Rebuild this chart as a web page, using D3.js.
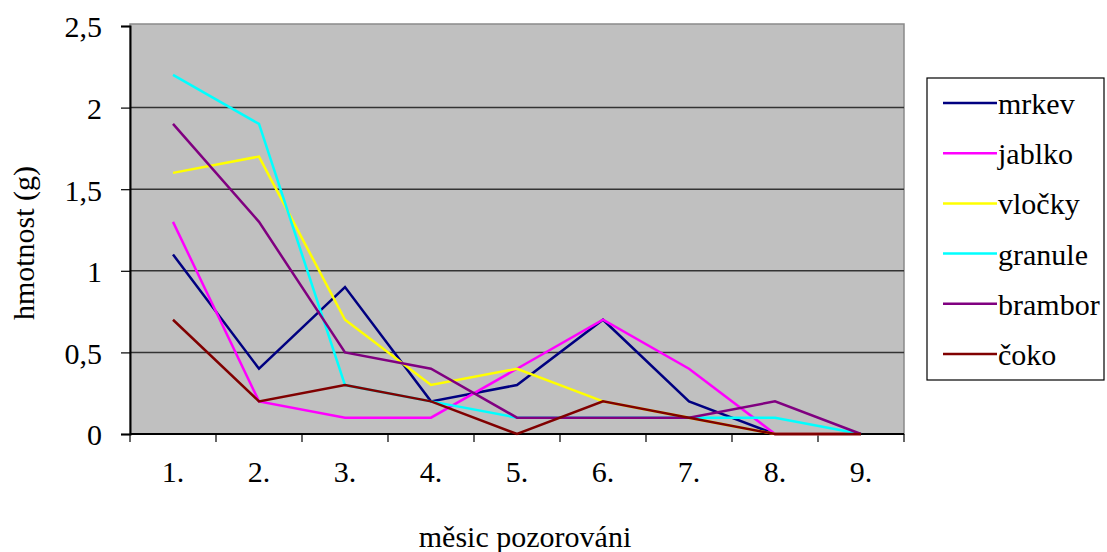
<!DOCTYPE html>
<html>
<head>
<meta charset="utf-8">
<script src="https://cdn.jsdelivr.net/npm/d3@7"></script>
<style>
  html, body { margin: 0; padding: 0; background: #fff; }
  svg { display: block; }
  svg text { font-family: "Liberation Serif", "Tinos", "Times New Roman", "DejaVu Serif", "Noto Serif", serif !important; fill: #000; }
</style>
</head>
<body>
<svg id="chart" width="1107" height="552"></svg>
<script>
// Months of observation
const months = ["1.", "2.", "3.", "4.", "5.", "6.", "7.", "8.", "9."];

// Weight (g) per food type and month
const mrkev   = [1.1, 0.4, 0.9, 0.2, 0.3, 0.7, 0.2, 0.0, 0.0];
const jablko  = [1.3, 0.2, 0.1, 0.1, 0.4, 0.7, 0.4, 0.0, 0.0];
const vlocky  = [1.6, 1.7, 0.7, 0.3, 0.4, 0.2, 0.1, 0.0, 0.0];
const granule = [2.2, 1.9, 0.3, 0.2, 0.1, 0.1, 0.1, 0.1, 0.0];
const brambor = [1.9, 1.3, 0.5, 0.4, 0.1, 0.1, 0.1, 0.2, 0.0];
const coko    = [0.7, 0.2, 0.3, 0.2, 0.0, 0.2, 0.1, 0.0, 0.0];

const yTicks = [0, 0.5, 1, 1.5, 2, 2.5];
const yTickLabels = ["0", "0,5", "1", "1,5", "2", "2,5"];

const series = [
  { name: "mrkev",   values: mrkev,   color: "#000080" },
  { name: "jablko",  values: jablko,  color: "#ff00ff" },
  { name: "vločky",  values: vlocky,  color: "#ffff00" },
  { name: "granule", values: granule, color: "#00ffff" },
  { name: "brambor", values: brambor, color: "#800080" },
  { name: "čoko",    values: coko,    color: "#800000" }
];

const svg = d3.select("#chart");
const plot = { left: 130, top: 26, right: 904, bottom: 434 };
const FONT = 30;

const x = d3.scaleBand().domain(months).range([plot.left, plot.right]);
const y = d3.scaleLinear().domain([0, 2.5]).range([plot.bottom, plot.top]);

// plot background
svg.append("rect")
  .attr("x", plot.left).attr("y", plot.top - 2)
  .attr("width", plot.right - plot.left).attr("height", plot.bottom - plot.top + 2)
  .attr("fill", "#c0c0c0")
  .attr("stroke", "#8a8a8a").attr("stroke-width", 1.5);

// horizontal gridlines
svg.append("g")
  .selectAll("line")
  .data(yTicks.filter(d => d > 0 && d < 2.5))
  .join("line")
  .attr("x1", plot.left).attr("x2", plot.right)
  .attr("y1", d => y(d)).attr("y2", d => y(d))
  .attr("stroke", "#333").attr("stroke-width", 1.5);

// y axis
const yAxis = svg.append("g")
  .attr("transform", `translate(${plot.left},0)`)
  .call(d3.axisLeft(y).tickValues(yTicks)
    .tickFormat((d, i) => yTickLabels[i]).tickSize(9).tickPadding(19));
yAxis.select(".domain").attr("stroke", "#000").attr("stroke-width", 2);
yAxis.selectAll(".tick line").attr("stroke", "#000").attr("stroke-width", 1.2);
yAxis.selectAll(".tick text")
  .style("font-size", FONT + "px")
  .attr("dy", "0.36em")
  .attr("fill", "#000");

// x axis with boundary ticks between categories
const xAxisG = svg.append("g").attr("transform", `translate(0,${plot.bottom})`);
xAxisG.append("line")
  .attr("x1", plot.left).attr("x2", plot.right)
  .attr("stroke", "#000").attr("stroke-width", 2);
const bounds = months.map(m => x(m)).concat([plot.right]);
xAxisG.selectAll("line.tick")
  .data(bounds)
  .join("line").attr("class", "tick")
  .attr("x1", d => d).attr("x2", d => d)
  .attr("y1", 0).attr("y2", 8)
  .attr("stroke", "#000").attr("stroke-width", 1.2);
xAxisG.selectAll("text")
  .data(months)
  .join("text")
  .attr("x", d => x(d) + x.bandwidth() / 2)
  .attr("y", 48)
  .attr("text-anchor", "middle")
  .style("font-size", FONT + "px")
  .text(d => d);

// series lines
const line = d3.line()
  .x((d, i) => x(months[i]) + x.bandwidth() / 2)
  .y(d => y(d));

svg.append("g")
  .selectAll("path")
  .data(series)
  .join("path")
  .attr("d", s => line(s.values))
  .attr("fill", "none")
  .attr("stroke", s => s.color)
  .attr("stroke-width", 2.5)
  .attr("stroke-linejoin", "miter");

// axis titles
svg.append("text")
  .attr("x", 525).attr("y", 547)
  .attr("text-anchor", "middle")
  .style("font-size", FONT + "px")
  .text("měsic pozorováni");

svg.append("text")
  .attr("transform", "translate(34,243) rotate(-90)")
  .attr("text-anchor", "middle")
  .style("font-size", FONT + "px")
  .text("hmotnost (g)");

// legend
const legend = svg.append("g");
legend.append("rect")
  .attr("x", 927).attr("y", 78).attr("width", 177).attr("height", 302)
  .attr("fill", "#fff").attr("stroke", "#000").attr("stroke-width", 1.2);
const item = legend.selectAll("g.item")
  .data(series)
  .join("g").attr("class", "item")
  .attr("transform", (d, i) => `translate(943,${103 + i * 50.2})`);
item.append("line")
  .attr("x1", 0).attr("x2", 54)
  .attr("stroke", d => d.color).attr("stroke-width", 2.5);
item.append("text")
  .attr("x", 55).attr("y", 11)
  .style("font-size", FONT + "px")
  .text(d => d.name);
</script>
</body>
</html>
